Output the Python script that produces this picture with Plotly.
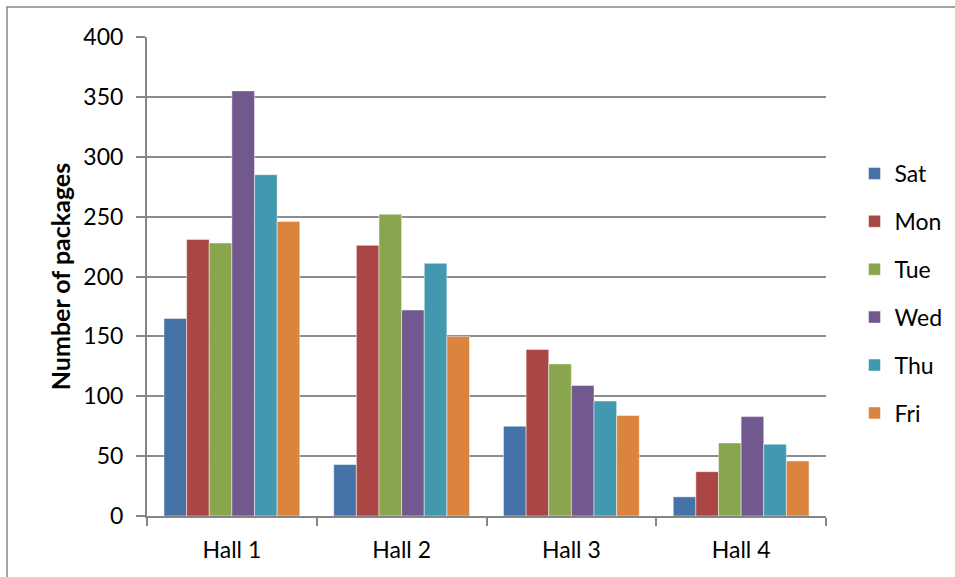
import plotly.graph_objects as go

halls = ["Hall 1", "Hall 2", "Hall 3", "Hall 4"]
days = ["Sat", "Mon", "Tue", "Wed", "Thu", "Fri"]
sat = [165, 43, 75, 16]
mon = [231, 226, 139, 37]
tue = [228, 252, 127, 61]
wed = [355, 172, 109, 83]
thu = [285, 211, 96, 60]
fri = [246, 150, 84, 46]
series = [sat, mon, tue, wed, thu, fri]
colors = ["#4572A7", "#AA4643", "#89A54E", "#71588F", "#4198AF", "#DB843D"]
y_ticks = [0, 50, 100, 150, 200, 250, 300, 350, 400]

FONT = "Lato, 'Open Sans', sans-serif"

fig = go.Figure()
for name, vals, col in zip(days, series, colors):
    fig.add_trace(go.Bar(
        x=halls, y=vals, name=name, legendgroup=name,
        marker=dict(color=col, line=dict(color="rgba(255,255,255,0.6)", width=0.8)),
    ))

fig.update_layout(
    width=955, height=577,
    margin=dict(l=147, r=129, t=37, b=61, autoexpand=False),
    paper_bgcolor="white", plot_bgcolor="white",
    barmode="group", bargap=0.2, bargroupgap=0,
    font=dict(family=FONT, size=23, color="#000000"),
    showlegend=True,
    legend=dict(x=1.042, y=0.76, xanchor="left", yanchor="top",
                font=dict(size=23), tracegroupgap=15,
                bgcolor="rgba(0,0,0,0)"),
    xaxis=dict(
        showline=True, linecolor="#868686", linewidth=2,
        ticks="outside", ticklen=8, tickwidth=1.5, tickcolor="#868686",
        tickson="boundaries", showgrid=False,
        tickfont=dict(size=23), ticklabelstandoff=12,
    ),
    yaxis=dict(
        range=[0, 400], tickvals=y_ticks,
        showline=True, linecolor="#868686", linewidth=2,
        ticks="outside", ticklen=9, tickwidth=1.5, tickcolor="#868686",
        showgrid=True, gridcolor="#8c8c8c", gridwidth=1.5,
        zeroline=False, ticklabelstandoff=8,
        tickfont=dict(size=23),
        title=dict(text="<b>Number of packages</b>", font=dict(size=25), standoff=6),
    ),
    shapes=[dict(type="rect", xref="paper", yref="paper",
                 x0=(7 - 147) / 679, x1=2.0, y0=-1.0, y1=(516 - 7) / 479,
                 line=dict(color="#868686", width=1.5), fillcolor="rgba(0,0,0,0)",
                 layer="below")],
)

fig.write_html("out.html")
